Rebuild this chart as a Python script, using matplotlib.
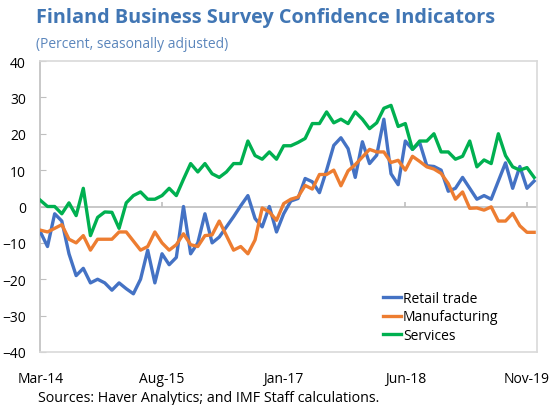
import numpy as np
import matplotlib
matplotlib.use("Agg")
import matplotlib.pyplot as plt

plt.rcParams['font.family'] = ['Open Sans', 'DejaVu Sans']

# monthly data, Mar-14 onwards
retail = [-7, -11, -2, -4, -13, -19, -17, -21, -20, -21, -23, -21, -22.6, -24, -20, -12, -21,
          -13, -16, -14, 0, -13, -10, -2, -10, -8.4, -5.6, -2.8, 0.2, 3, -3.3, -5.6, 0, -7,
          -2, 1.5, 2.2, 7.7, 6.8, 3.8, 10, 16.8, 18.9, 15.9, 8, 17.8, 11.8, 14.1, 24, 9,
          6, 18, 15.7, 17.6, 11.2, 11, 10, 4.2, 5, 8, 5, 2, 3, 2, 7, 12, 5, 11, 5, 7]
manufacturing = [-6.5, -7, -6, -5, -9, -10, -8, -12, -9, -9, -9, -7, -7, -9.5, -12, -11, -7,
                 -10, -12, -10.5, -7.5, -10.5, -11, -8, -7.8, -4, -8, -12, -11, -13, -9.2,
                 -0.4, -1.5, -3.8, 0.8, 2, 2.6, 5.8, 4.8, 8.8, 8.8, 10, 5.7, 9.8, 11.5, 13.6,
                 15.7, 15, 15, 12.1, 12.7, 10, 13.8, 12.4, 10.9, 10.3, 9.1, 6.3, 2, 4, -0.5,
                 -0.4, -1, -0.1, -4, -4, -1.9, -5.3, -7.1, -7.1]
services = [1.7, 0, 0, -2, 1, -2.5, 5, -8, -3, -1.5, -1.6, -6, 1, 3, 4, 2, 2, 3, 5, 3, 7.5,
            11.8, 9.5, 11.8, 9, 8, 9.5, 11.8, 11.8, 18, 14, 13, 15, 13, 16.7, 16.7, 17.6,
            18.7, 22.8, 22.8, 26, 23, 24, 22.8, 26, 24, 21.4, 23, 27, 27.8, 22, 22.8, 15.7,
            18, 18, 20, 15, 15, 13, 13.8, 18, 10.9, 12.8, 11.8, 20, 14, 10.9, 10, 10.7, 8]

tick_pos = [0, 17, 34, 51, 68]
tick_labels = ['Mar-14', 'Aug-15', 'Jan-17', 'Jun-18', 'Nov-19']

x = np.arange(len(retail))

fig = plt.figure(figsize=(5.58, 4.06), dpi=100)
ax = fig.add_axes([40/558, 1-353/406, 497/558, 291/406])

ax.axhline(0, color='#bfbfbf', lw=1.2, zorder=1)
ax.vlines(tick_pos, 0, 1.2, color='#bfbfbf', lw=1.2, zorder=1)

ax.plot(x, retail, color='#4472c4', lw=2.4, label='Retail trade', zorder=3)
ax.plot(x, manufacturing, color='#ed7d31', lw=2.4, label='Manufacturing', zorder=4)
ax.plot(x, services, color='#00b050', lw=2.4, label='Services', zorder=5)

ax.set_xlim(-0.05, 69.4)
ax.set_ylim(-40, 40)
ax.set_yticks(range(-40, 41, 10))
ax.set_xticks(tick_pos)
ax.set_xticklabels(tick_labels)
ax.tick_params(axis='y', direction='in', length=4, color='#bfbfbf', labelsize=10, pad=10)
ax.tick_params(axis='x', length=0, labelsize=10, pad=14)
for s in ax.spines.values():
    s.set_color('#d9d9d9')
    s.set_linewidth(1.2)
ax.spines['left'].set_color('#bfbfbf')

ax.legend(loc='upper left', bbox_to_anchor=(0.69, 0.21), frameon=False, fontsize=10,
          handlelength=1.3, handletextpad=0.15, labelspacing=0.25, borderpad=0,
          borderaxespad=0)

fig.text(36/558, 1-18/406, 'Finland Business Survey Confidence Indicators', fontsize=14.3,
         fontweight='bold', color='#4176b4', va='center', ha='left')
fig.text(36/558, 1-44/406, '(Percent, seasonally adjusted)', fontsize=10,
         color='#5b86bc', va='center', ha='left')
fig.text(38/558, 1-399/406, 'Sources: Haver Analytics; and IMF Staff calculations.',
         fontsize=10.3, color='black', va='center', ha='left')

fig.savefig('out.png', dpi=100)
